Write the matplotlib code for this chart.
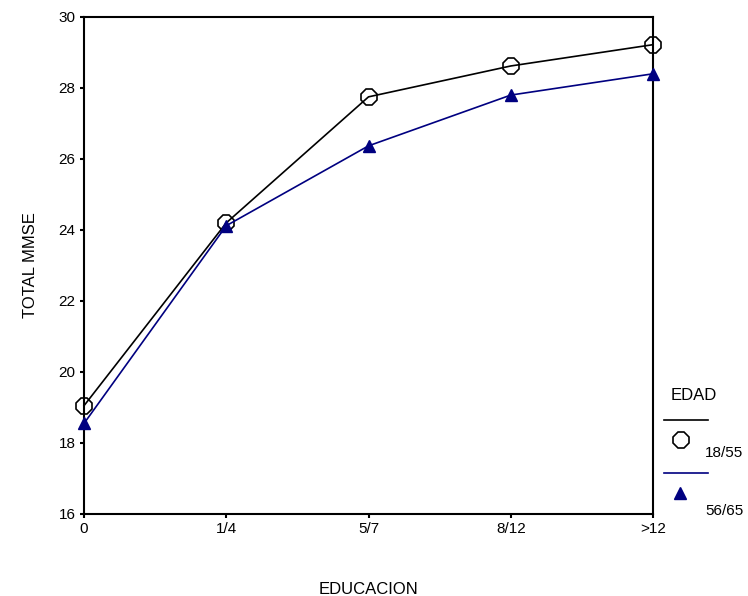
import matplotlib.pyplot as plt
from matplotlib.lines import Line2D

plt.rcParams['font.family'] = ['Liberation Sans', 'DejaVu Sans']

categorias = ["0", "1/4", "5/7", "8/12", ">12"]
grupo_18_55 = [19.05, 24.2, 27.75, 28.62, 29.22]
grupo_56_65 = [18.55, 24.12, 26.37, 27.8, 28.4]
y_ticks = [16, 18, 20, 22, 24, 26, 28, 30]

fig = plt.figure(figsize=(7.48, 5.96), dpi=100)
ax = fig.add_axes([0.1123, 0.1376, 0.873 - 0.1123, 0.9715 - 0.1376])

x = list(range(len(categorias)))
ax.plot(x, grupo_18_55, color="black", lw=1.2, marker="8", markersize=12,
        markerfacecolor="none", markeredgecolor="black", markeredgewidth=1.2,
        clip_on=False, zorder=3)
ax.plot(x, grupo_56_65, color="#000080", lw=1.2, marker="^", markersize=9,
        markerfacecolor="#000080", markeredgecolor="#000080",
        clip_on=False, zorder=3)

ax.set_xlim(0, 4)
ax.set_ylim(16, 30)
ax.set_xticks(x)
ax.set_xticklabels(categorias)
ax.set_yticks(y_ticks)
ax.tick_params(direction="out", length=3, width=1.5, labelsize=11, pad=3)
for s in ax.spines.values():
    s.set_linewidth(1.5)

ax.set_ylabel("TOTAL MMSE", fontsize=12, labelpad=15)
ax.set_xlabel("EDUCACION", fontsize=12, labelpad=33)

# Leyenda a la derecha
W, H = 748, 596
def fx(px):
    return px / W
def fy(py):
    return 1 - py / H

fig.text(fx(671), fy(396), "EDAD", fontsize=12, va="center", ha="left")
fig.add_artist(Line2D([fx(664), fx(708)], [fy(420), fy(420)], color="black", lw=1.2))
fig.add_artist(Line2D([fx(681)], [fy(440)], marker="8", markersize=12,
                      markerfacecolor="none", markeredgecolor="black",
                      markeredgewidth=1.2, linestyle="none"))
fig.text(fx(705), fy(453), "18/55", fontsize=11, va="center", ha="left")
fig.add_artist(Line2D([fx(664), fx(708)], [fy(473), fy(473)], color="#000080", lw=1.2))
fig.add_artist(Line2D([fx(680)], [fy(493)], marker="^", markersize=9,
                      color="#000080", linestyle="none"))
fig.text(fx(705), fy(511), "56/65", fontsize=11, va="center", ha="left")

fig.savefig("out.png", dpi=100)
